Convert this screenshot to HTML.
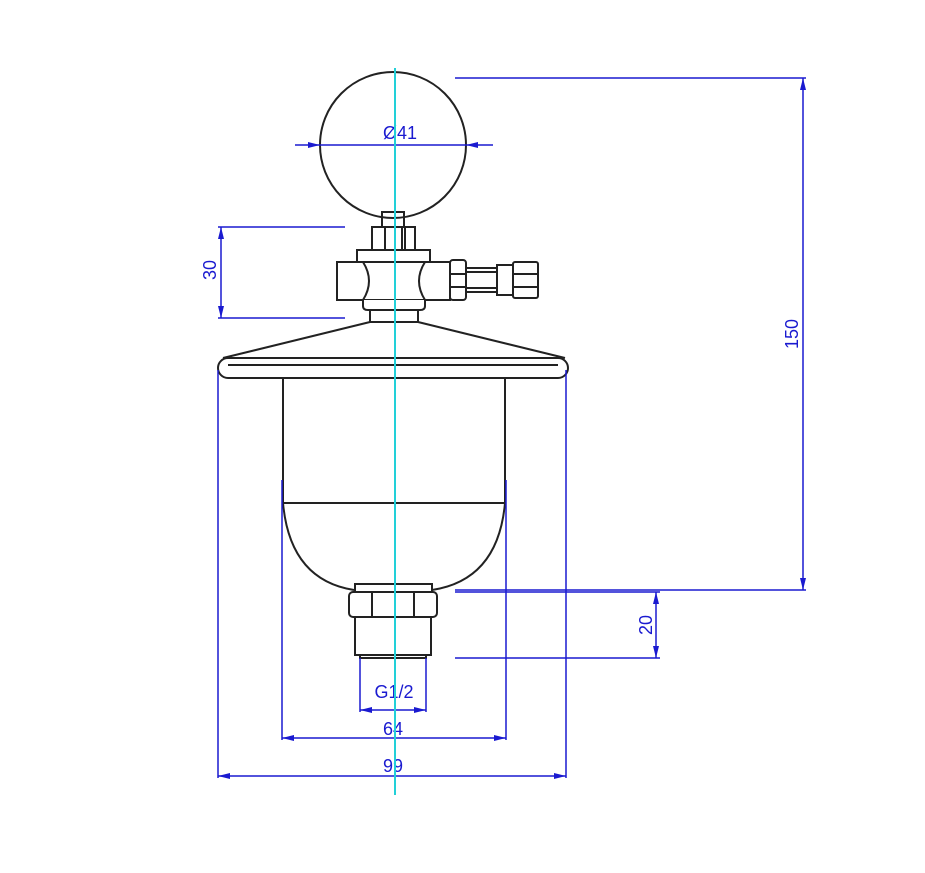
<!DOCTYPE html>
<html><head><meta charset="utf-8"><style>html,body{margin:0;padding:0;background:#fff}svg{display:block}</style></head>
<body>
<svg width="925" height="873" viewBox="0 0 925 873" xmlns="http://www.w3.org/2000/svg">
<defs>
<marker id="a" viewBox="0 0 12 6" refX="12" refY="3" markerWidth="12" markerHeight="6" orient="auto-start-reverse" markerUnits="userSpaceOnUse"><path d="M0,0 L12,3 L0,6z" fill="#1a1ad0"/></marker>
</defs>
<g fill="none" stroke="#222" stroke-width="2">
<circle cx="393" cy="145" r="73"/>
<rect x="382" y="212" width="22" height="15"/>
<rect x="372" y="227" width="43" height="23"/>
<line x1="385" y1="227" x2="385" y2="250"/><line x1="402" y1="227" x2="402" y2="250"/><line x1="405" y1="227" x2="405" y2="250"/>
<rect x="357" y="250" width="73" height="12"/>
<rect x="337" y="262" width="113" height="38"/>
<path d="M363,262 Q375,281 363,300 M425,262 Q413,281 425,300" />
<path d="M363,300 L363,306 Q363,310 368,310 L420,310 Q425,310 425,306 L425,300" fill="#fff"/>
<rect x="370" y="310" width="48" height="12"/>
<rect x="450" y="260" width="16" height="40" rx="3"/>
<line x1="450" y1="274" x2="466" y2="274"/><line x1="450" y1="287" x2="466" y2="287"/>
<rect x="466" y="268" width="31" height="24"/>
<line x1="466" y1="272" x2="497" y2="272"/><line x1="466" y1="288" x2="497" y2="288"/>
<rect x="497" y="265" width="16" height="30"/>
<rect x="513" y="262" width="25" height="36" rx="2"/>
<line x1="513" y1="274" x2="538" y2="274"/><line x1="513" y1="287" x2="538" y2="287"/>
<path d="M370,322 L223,358 M418,322 L565,358"/>
<rect x="218" y="358" width="350" height="20" rx="10"/>
<line x1="228" y1="365" x2="558" y2="365"/>
<path d="M283,378 L283,503 M505,378 L505,503"/>
<line x1="283" y1="503" x2="505" y2="503"/>
<path d="M283,503 Q290,580 354,590 M505,503 Q498,580 432,590"/>
<rect x="355" y="584" width="77" height="8"/>
<rect x="349" y="592" width="88" height="25" rx="4"/>
<line x1="372" y1="592" x2="372" y2="617"/><line x1="414" y1="592" x2="414" y2="617"/>
<rect x="355" y="617" width="76" height="38"/>
<rect x="360" y="655" width="66" height="3"/>
</g>
<g stroke="#1a1ad0" stroke-width="1.5" fill="none">
<line x1="455" y1="78" x2="806" y2="78"/>
<line x1="455" y1="590" x2="806" y2="590"/>
<line x1="803" y1="78" x2="803" y2="590" marker-start="url(#a)" marker-end="url(#a)"/>
<line x1="295" y1="145" x2="320" y2="145" marker-end="url(#a)"/>
<line x1="320" y1="145" x2="466" y2="145"/>
<line x1="493" y1="145" x2="466" y2="145" marker-end="url(#a)"/>
<line x1="218" y1="227" x2="345" y2="227"/>
<line x1="218" y1="318" x2="345" y2="318"/>
<line x1="221" y1="227" x2="221" y2="318" marker-start="url(#a)" marker-end="url(#a)"/>
<line x1="455" y1="592" x2="660" y2="592"/>
<line x1="455" y1="658" x2="660" y2="658"/>
<line x1="656" y1="592" x2="656" y2="658" marker-start="url(#a)" marker-end="url(#a)"/>
<line x1="360" y1="658" x2="360" y2="712"/><line x1="426" y1="658" x2="426" y2="712"/>
<line x1="360" y1="710" x2="426" y2="710" marker-start="url(#a)" marker-end="url(#a)"/>
<line x1="282" y1="480" x2="282" y2="740"/><line x1="506" y1="480" x2="506" y2="740"/>
<line x1="282" y1="738" x2="506" y2="738" marker-start="url(#a)" marker-end="url(#a)"/>
<line x1="218" y1="370" x2="218" y2="778"/><line x1="566" y1="370" x2="566" y2="778"/>
<line x1="218" y1="776" x2="566" y2="776" marker-start="url(#a)" marker-end="url(#a)"/>
</g>
<g fill="#1a1ad0" font-family="Liberation Sans, sans-serif" font-size="18" text-anchor="middle">
<text x="400" y="139">Ø41</text>
<text x="394" y="698">G1/2</text>
<text x="393" y="735">64</text>
<text x="393" y="772">99</text>
<text transform="translate(216,270) rotate(-90)">30</text>
<text transform="translate(798,334) rotate(-90)">150</text>
<text transform="translate(652,625) rotate(-90)">20</text>
</g>
<line x1="395" y1="68" x2="395" y2="795" stroke="#22d0d8" stroke-width="2"/>
</svg>
</body></html>
